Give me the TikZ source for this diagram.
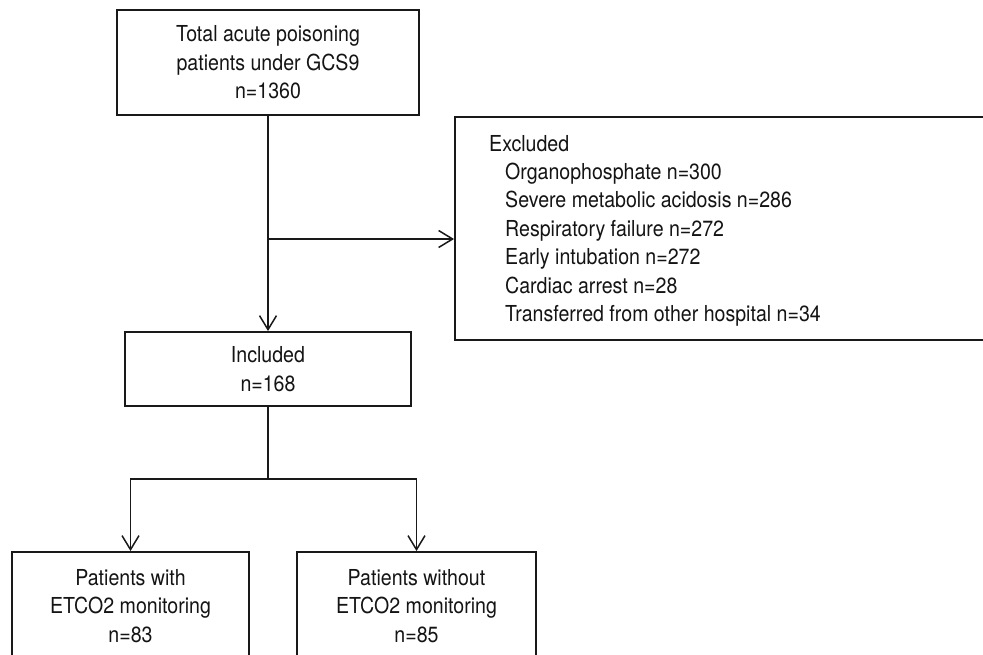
\documentclass[tikz,border=0pt]{standalone}
\usepackage{fontspec}
\setmainfont{TeX Gyre Heros}[FakeStretch=0.89]
\usetikzlibrary{arrows.meta}
\begin{document}
\begin{tikzpicture}[x=1pt,y=-1pt,
  txt/.style={font=\fontsize{22pt}{28.5pt}\selectfont, text=black!92},
  box/.style={txt, draw=black!90, line width=1.9pt, inner sep=0pt, align=center},
  conn/.style={draw=black!90, line width=1.9pt},
  arr/.style={conn, -{Straight Barb[length=14pt,width=17pt,line width=1.5pt]}},
  lbl/.style={txt, anchor=base west, inner sep=0pt}]
\useasboundingbox (0,0) rectangle (983,654);
\clip (0,0) rectangle (983,654);
\fill[white] (0,0) rectangle (983,654);

\node[box, minimum width=302pt, minimum height=105pt] (total) at (268,62.5)
  {Total acute poisoning\\patients under GCS9\\n=1360};
\node[box, minimum width=286pt, minimum height=74pt] (incl) at (268,369)
  {Included\\n=168};
\node[box, minimum width=237pt, minimum height=108pt] (with) at (130.5,606)
  {Patients with\\ETCO2 monitoring\\n=83};
\node[box, minimum width=239pt, minimum height=108pt] (without) at (416.5,606)
  {Patients without\\ETCO2 monitoring\\n=85};
\node[box, minimum width=545pt, minimum height=223pt] (excl) at (727.5,228.5) {};

\node[lbl] (ex0) at (489,151) {Excluded};
\node[lbl] (ex1) at (505,179.4) {Organophosphate n=300};
\node[lbl] (ex2) at (505,207.8) {Severe metabolic acidosis n=286};
\node[lbl] (ex3) at (505,236.2) {Respiratory failure n=272};
\node[lbl] (ex4) at (505,264.6) {Early intubation n=272};
\node[lbl] (ex5) at (505,293) {Cardiac arrest n=28};
\node[lbl] (ex6) at (505,321.4) {Transferred from other hospital n=34};

\coordinate (br) at (268,239);
\coordinate (split) at (268,479);
\draw[arr] (total.south) -- (incl.north);
\draw[arr] (br) -- (br -| excl.west);
\draw[conn] (incl.south) -- (split);
\draw[arr] (split) -| (with.north);
\draw[arr] (split) -| (without.north);
\end{tikzpicture}
\end{document}
